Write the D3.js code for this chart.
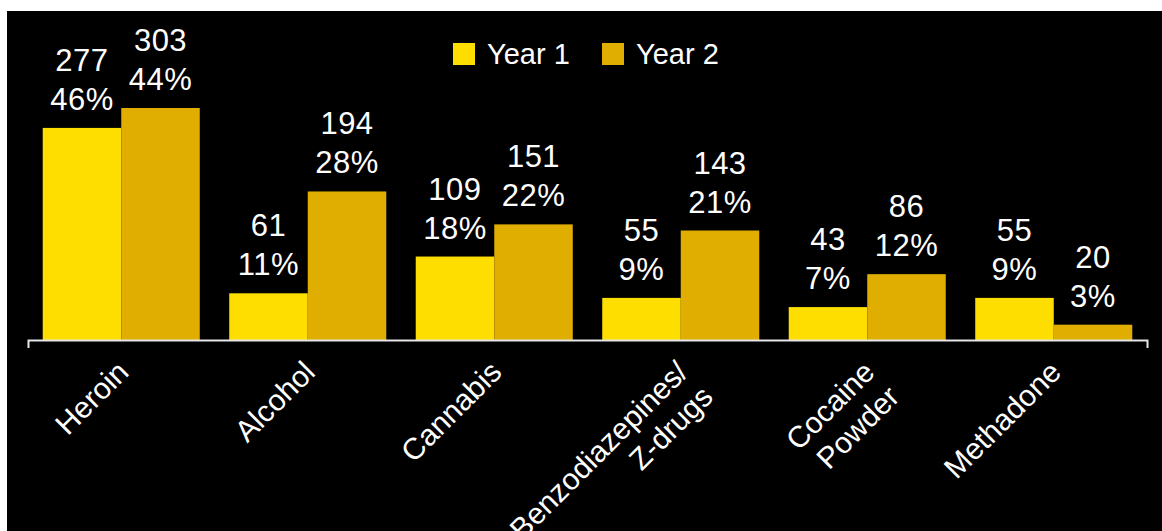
<!DOCTYPE html>
<html>
<head>
<meta charset="utf-8">
<script src="https://cdn.jsdelivr.net/npm/d3@7"></script>
<style>
  html, body { margin: 0; padding: 0; background: #ffffff; }
  svg { display: block; }
  text { font-family: "Liberation Sans", Arial, Helvetica, sans-serif; fill: #ffffff; }
</style>
</head>
<body>
<svg id="chart" width="1162" height="531"></svg>
<script>
// Substances reported, two years side by side
const categories = ["Heroin", "Alcohol", "Cannabis", "Benzodiazepines/\nZ-drugs", "Cocaine\nPowder", "Methadone"];
const seriesNames = ["Year 1", "Year 2"];
const year1Counts = [277, 61, 109, 55, 43, 55];
const year2Counts = [303, 194, 151, 143, 86, 20];
const year1Pct = [46, 11, 18, 9, 7, 9];
const year2Pct = [44, 28, 22, 21, 12, 3];
const seriesColors = ["#FEDD00", "#DFAE00"];

const W = 1162, H = 531;
const svg = d3.select("#chart");

// dark panel
svg.append("rect").attr("x", 7).attr("y", 11).attr("width", W - 7).attr("height", H - 11).attr("fill", "#000000");

const baseY = 340;

const x0 = d3.scaleBand()
  .domain(categories)
  .range([28, 1147])
  .paddingInner(0.158)
  .paddingOuter(0.079);

const x1 = d3.scaleBand()
  .domain(seriesNames)
  .range([0, x0.bandwidth()])
  .padding(0);

const y = d3.scaleLinear()
  .domain([0, 303])
  .range([baseY, baseY - 232]);

const rows = categories.map((c, i) => ({
  cat: c,
  vals: [
    { s: seriesNames[0], count: year1Counts[i], pct: year1Pct[i], color: seriesColors[0] },
    { s: seriesNames[1], count: year2Counts[i], pct: year2Pct[i], color: seriesColors[1] }
  ]
}));

const groups = svg.append("g").selectAll("g")
  .data(rows).join("g")
  .attr("transform", d => `translate(${x0(d.cat)},0)`);

groups.selectAll("rect")
  .data(d => d.vals).join("rect")
  .attr("x", d => x1(d.s))
  .attr("width", x1.bandwidth())
  .attr("y", d => y(d.count))
  .attr("height", d => y(0) - y(d.count))
  .attr("fill", d => d.color);

// value labels: count over percentage
const lab = groups.selectAll("text.val")
  .data(d => d.vals).join("text")
  .attr("class", "val")
  .attr("text-anchor", "middle")
  .attr("font-size", 31)
  .attr("letter-spacing", 0.5);
lab.append("tspan")
  .attr("x", d => x1(d.s) + x1.bandwidth() / 2)
  .attr("y", d => y(d.count) - 57)
  .text(d => d.count);
lab.append("tspan")
  .attr("x", d => x1(d.s) + x1.bandwidth() / 2)
  .attr("y", d => y(d.count) - 18)
  .text(d => d.pct + "%");

// category axis
const axis = svg.append("g")
  .attr("transform", `translate(0,${baseY})`)
  .call(d3.axisBottom(x0).tickSizeInner(0).tickSizeOuter(8).tickFormat(""));
axis.select(".domain").attr("stroke", "#e6e6e6").attr("stroke-width", 2);
axis.selectAll(".tick line").remove();
axis.selectAll(".tick text").remove();

axis.selectAll(".tick").each(function(d) {
  const lines = d.split("\n");
  const t = d3.select(this).append("text")
    .attr("text-anchor", "end")
    .attr("font-size", 30)
    .attr("fill", "#ffffff")
    .attr("transform", "translate(9,34) rotate(-45)");
  lines.forEach((ln, i) => {
    t.append("tspan").attr("x", 0).attr("y", i * 35).text(ln);
  });
});

// legend
const legend = svg.append("g");
const legX = [453, 602];
seriesNames.forEach((s, i) => {
  legend.append("rect").attr("x", legX[i]).attr("y", 43).attr("width", 22).attr("height", 22).attr("fill", seriesColors[i]);
  legend.append("text").attr("x", legX[i] + 34).attr("y", 64).attr("font-size", 29).text(s);
});
</script>
</body>
</html>
